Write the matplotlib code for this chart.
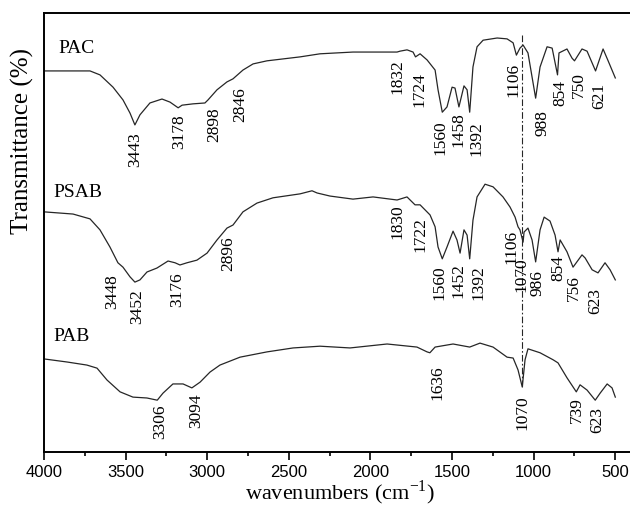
import numpy as np
import matplotlib
matplotlib.use('Agg')
import matplotlib.pyplot as plt
from matplotlib.ticker import MultipleLocator

plt.rcParams['font.family'] = ['Liberation Serif', 'DejaVu Serif']
plt.rcParams['mathtext.fontset'] = 'stix'

# spectra: wavenumber (cm-1) and transmittance (arbitrary, offset)
pac_wn = [4000, 3718, 3657, 3577, 3516, 3473, 3443, 3412, 3351, 3277, 3228, 3178, 3154,
          3087, 3014, 2995, 2940, 2879, 2842, 2781, 2719, 2634, 2431, 2309, 2107, 1837,
          1819, 1776, 1739, 1724, 1696, 1653, 1604, 1586, 1560, 1531, 1500, 1482, 1458,
          1427, 1408, 1392, 1372, 1347, 1310, 1224, 1163, 1126, 1106, 1084, 1065, 1035,
          988, 961, 918, 887, 854, 845, 796, 765, 750, 704, 673, 621, 575, 544, 500]
pac_t = [86.8, 86.8, 85.9, 83.1, 80.2, 77.2, 74.5, 76.8, 79.5, 80.4, 79.7, 78.4, 79.0,
         79.3, 79.5, 80.2, 82.5, 84.3, 85.0, 87.0, 88.4, 89.1, 90.0, 90.7, 91.1, 91.1,
         91.3, 91.6, 91.1, 90.0, 90.7, 89.3, 87.0, 82.5, 77.4, 78.6, 83.1, 82.9, 78.6,
         83.4, 82.5, 77.4, 87.7, 92.3, 93.8, 94.3, 94.1, 93.2, 90.4, 92.0, 92.7, 90.9,
         80.6, 87.7, 92.3, 92.0, 85.9, 90.9, 91.8, 89.7, 89.1, 91.8, 91.3, 86.8, 91.8,
         89.1, 85.2]

psab_wn = [4000, 3822, 3718, 3657, 3596, 3547, 3516, 3473, 3443, 3412, 3369, 3308, 3240,
           3197, 3167, 3124, 3063, 3001, 2940, 2879, 2842, 2781, 2695, 2597, 2431, 2358,
           2327, 2248, 2107, 1984, 1837, 1776, 1727, 1696, 1635, 1604, 1586, 1560, 1531,
           1494, 1470, 1451, 1427, 1408, 1392, 1372, 1347, 1298, 1249, 1188, 1145, 1114,
           1096, 1084, 1065, 1059, 1035, 1010, 988, 961, 936, 900, 869, 851, 838, 796,
           759, 704, 685, 642, 606, 563, 532, 500]
psab_t = [54.7, 54.2, 53.1, 50.6, 46.7, 43.1, 42.1, 39.9, 38.7, 39.2, 41.0, 41.9, 43.5,
          43.1, 42.6, 43.1, 43.7, 45.3, 48.3, 51.0, 51.7, 54.7, 56.7, 57.9, 58.8, 59.5,
          59.0, 58.3, 57.6, 58.1, 57.4, 58.1, 56.3, 56.3, 54.0, 51.3, 46.7, 44.0, 46.7,
          50.3, 48.3, 45.3, 50.6, 49.4, 44.0, 52.8, 58.1, 61.0, 60.4, 58.1, 55.8, 53.5,
          51.3, 50.6, 47.8, 50.1, 51.0, 48.3, 43.3, 50.6, 53.5, 52.6, 49.4, 45.6, 48.3,
          45.6, 42.1, 44.9, 44.2, 41.5, 40.8, 43.1, 41.5, 39.2]

pab_wn = [4000, 3859, 3737, 3675, 3614, 3534, 3455, 3369, 3306, 3271, 3210, 3148, 3094,
          3044, 2983, 2922, 2799, 2634, 2474, 2309, 2125, 1898, 1715, 1653, 1636, 1604,
          1494, 1392, 1329, 1249, 1163, 1126, 1096, 1070, 1053, 1035, 961, 881, 851, 796,
          739, 716, 673, 623, 593, 550, 520, 500]
pab_t = [21.2, 20.5, 19.8, 19.1, 16.4, 13.7, 12.5, 12.3, 11.8, 13.4, 15.5, 15.5, 14.6,
         15.9, 18.2, 19.8, 21.6, 22.8, 23.7, 24.1, 23.7, 24.6, 23.9, 22.8, 22.6, 23.9,
         24.6, 23.9, 24.8, 23.9, 21.6, 21.4, 18.7, 14.8, 21.0, 23.5, 22.6, 21.0, 20.3,
         16.9, 13.7, 15.3, 14.1, 11.8, 13.4, 15.5, 14.6, 12.5]

# peak labels: text, x (cm-1), top of text
pac_peaks = ['3443', '3178', '2898', '2846', '1832', '1724', '1560', '1458', '1392',
             '1106', '988', '854', '750', '621']
pac_px = [3442, 3173, 2958, 2799, 1837, 1702, 1574, 1463, 1353, 1126, 949, 838, 722, 600]
pac_py = [72.9, 76.8, 78.6, 83.1, 89.5, 86.6, 75.6, 77.4, 75.4, 88.6, 77.9, 84.7, 86.6, 84.1]

psab_peaks = ['3448', '3452', '3176', '2896', '1830', '1722', '1560', '1452', '1392',
              '1106', '1070', '986', '854', '756', '623']
psab_px = [3583, 3430, 3185, 2873, 1837, 1696, 1580, 1463, 1341, 1139, 1077, 979, 851, 753, 624]
psab_py = [40.5, 37.1, 41.0, 49.2, 56.5, 53.5, 42.6, 43.1, 42.6, 50.6, 44.4, 41.5, 44.9, 40.3, 37.4]

pab_peaks = ['3306', '3094', '1636', '1070', '739', '623']
pab_px = [3289, 3069, 1592, 1071, 734, 612]
pab_py = [10.9, 13.4, 19.8, 13.0, 12.5, 10.3]

names = ['PAC', 'PSAB', 'PAB']
name_x = [3914, 3945, 3945]
name_y = [91.8, 59.0, 26.4]

fig = plt.figure(figsize=(6.3, 5.07), dpi=100)
ax = fig.add_axes([0.0698, 0.1085, 0.9302, 0.8659])

for wn, t in [(pac_wn, pac_t), (psab_wn, psab_t), (pab_wn, pab_t)]:
    ax.plot(wn, t, color='#262626', lw=0.9)

ax.plot([1070, 1070], [95.0, 14.8], color='#262626', lw=0.8, dashes=(6, 2, 1.5, 2))

for labs, xs, ys in [(pac_peaks, pac_px, pac_py), (psab_peaks, psab_px, psab_py),
                     (pab_peaks, pab_px, pab_py)]:
    for s, x, y in zip(labs, xs, ys):
        ax.text(x, y, s, rotation=90, ha='center', va='top', fontsize=12.5)

for s, x, y in zip(names, name_x, name_y):
    ax.text(x, y, s, ha='left', va='center', fontsize=14)

ax.set_xlim(4000, 410)
ax.set_ylim(0, 100)
ax.set_yticks([])
ax.xaxis.set_major_locator(MultipleLocator(500))
ax.xaxis.set_minor_locator(MultipleLocator(250))
ax.tick_params(axis='x', which='major', direction='out', length=6, width=1.2,
               labelsize=12, labelfontfamily='Liberation Sans')
ax.tick_params(axis='x', which='minor', direction='out', length=3, width=1.2)
ax.spines['right'].set_visible(False)
for sp in ['left', 'bottom', 'top']:
    ax.spines[sp].set_linewidth(1.4)

fig.text(22 / 630, 1 - 141 / 507, 'Transmittance (%)', rotation=90,
         ha='center', va='center', fontsize=18)
fig.text(340 / 630, 1 - 493 / 507, 'wavenumbers (cm$^{\\mathregular{-1}}$)',
         ha='center', va='center', fontsize=16)

fig.savefig('out.png', dpi=100)
